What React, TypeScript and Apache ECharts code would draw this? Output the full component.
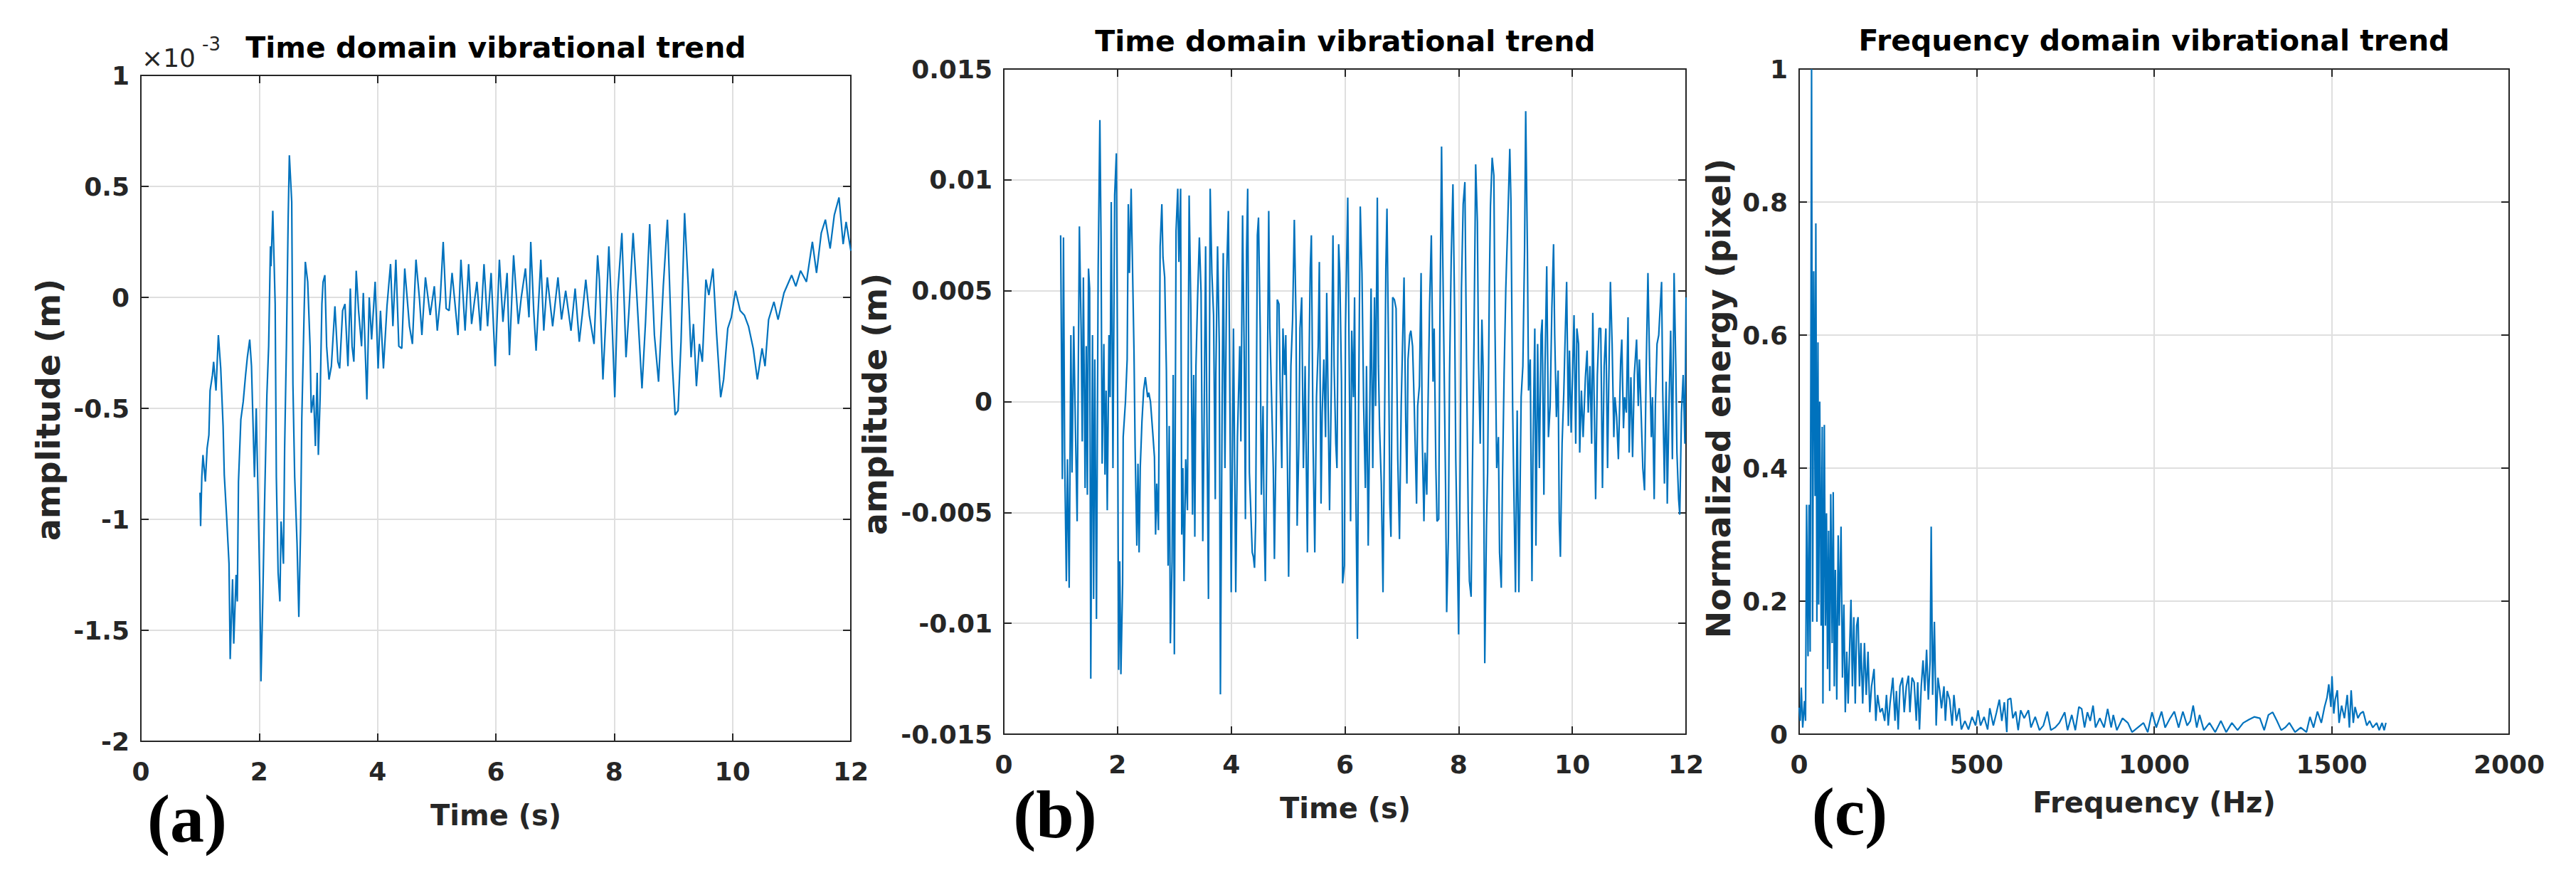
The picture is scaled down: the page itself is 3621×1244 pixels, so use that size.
import { useEffect, useRef } from "react";
import * as echarts from "echarts";

// (a) displacement, values in units of 1e-3 m
const timeDomainA: [number, number][] = [
  [1.0, -0.88], [1.01, -1.03], [1.03, -0.81], [1.05, -0.71], [1.09, -0.83], [1.12, -0.68], [1.15, -0.62], [1.17, -0.42],
  [1.21, -0.35], [1.23, -0.29], [1.27, -0.42], [1.31, -0.17], [1.35, -0.32], [1.39, -0.58], [1.41, -0.8], [1.45, -0.99],
  [1.49, -1.2], [1.51, -1.63], [1.55, -1.27], [1.57, -1.56], [1.61, -1.25], [1.63, -1.37], [1.65, -0.83], [1.69, -0.55],
  [1.73, -0.47], [1.77, -0.35], [1.8, -0.27], [1.84, -0.19], [1.87, -0.31], [1.92, -0.81], [1.95, -0.5], [1.98, -0.88],
  [2.01, -1.3], [2.03, -1.73], [2.06, -1.37], [2.09, -0.94], [2.13, -0.44], [2.16, -0.22], [2.19, 0.23], [2.2, 0.14],
  [2.23, 0.39], [2.27, -0.03], [2.29, -0.81], [2.32, -1.24], [2.35, -1.37], [2.37, -1.01], [2.41, -1.2], [2.43, -0.68],
  [2.46, -0.22], [2.49, 0.36], [2.51, 0.64], [2.55, 0.43], [2.57, -0.39], [2.6, -0.81], [2.64, -1.11], [2.67, -1.44],
  [2.7, -1.04], [2.72, -0.55], [2.76, -0.06], [2.78, 0.16], [2.82, 0.07], [2.86, -0.22], [2.88, -0.52], [2.92, -0.44],
  [2.95, -0.67], [2.98, -0.34], [3.0, -0.71], [3.03, -0.45], [3.06, -0.03], [3.08, 0.07], [3.11, 0.1], [3.14, -0.22],
  [3.18, -0.37], [3.22, -0.31], [3.28, -0.04], [3.33, -0.29], [3.36, -0.32], [3.41, -0.06], [3.45, -0.03], [3.5, -0.31],
  [3.54, 0.04], [3.57, -0.22], [3.6, -0.29], [3.64, 0.12], [3.68, -0.06], [3.73, -0.22], [3.76, 0.02], [3.82, -0.46],
  [3.86, 0.0], [3.9, -0.19], [3.96, 0.07], [4.01, -0.32], [4.05, -0.06], [4.1, -0.32], [4.16, -0.04], [4.22, 0.15],
  [4.26, -0.13], [4.31, 0.17], [4.36, -0.22], [4.41, -0.23], [4.46, 0.13], [4.54, -0.13], [4.59, -0.21], [4.65, 0.17],
  [4.71, -0.01], [4.75, -0.17], [4.81, 0.09], [4.89, -0.08], [4.96, 0.05], [5.01, -0.15], [5.06, -0.01], [5.11, 0.25],
  [5.16, -0.05], [5.21, -0.06], [5.26, 0.11], [5.36, -0.17], [5.41, 0.17], [5.48, -0.15], [5.54, 0.15], [5.59, -0.12],
  [5.68, 0.07], [5.74, -0.15], [5.8, 0.15], [5.86, -0.13], [5.92, 0.11], [5.99, -0.31], [6.06, 0.17], [6.12, -0.11],
  [6.19, 0.11], [6.23, -0.26], [6.3, 0.19], [6.38, -0.12], [6.43, 0.0], [6.5, 0.13], [6.56, -0.09], [6.59, 0.25],
  [6.64, -0.06], [6.68, -0.24], [6.76, 0.17], [6.81, -0.15], [6.87, 0.09], [6.96, -0.13], [7.05, 0.09], [7.11, -0.1],
  [7.18, 0.03], [7.27, -0.15], [7.34, 0.04], [7.41, -0.2], [7.46, -0.08], [7.52, 0.08], [7.58, -0.08], [7.66, -0.21],
  [7.72, 0.19], [7.75, 0.08], [7.81, -0.37], [7.86, -0.09], [7.91, 0.23], [7.96, -0.08], [8.01, -0.45], [8.06, 0.02],
  [8.13, 0.29], [8.2, -0.27], [8.25, -0.06], [8.32, 0.29], [8.38, 0.02], [8.47, -0.41], [8.53, -0.11], [8.6, 0.33],
  [8.68, -0.17], [8.75, -0.38], [8.83, 0.05], [8.9, 0.35], [8.98, -0.29], [9.03, -0.53], [9.08, -0.51], [9.13, -0.2],
  [9.19, 0.38], [9.25, 0.06], [9.3, -0.27], [9.34, -0.12], [9.39, -0.4], [9.44, -0.21], [9.49, -0.29], [9.55, 0.08],
  [9.6, 0.01], [9.67, 0.13], [9.73, -0.16], [9.8, -0.45], [9.85, -0.37], [9.92, -0.14], [9.98, -0.09], [10.05, 0.03],
  [10.13, -0.06], [10.2, -0.08], [10.27, -0.13], [10.35, -0.23], [10.42, -0.37], [10.5, -0.23], [10.55, -0.31],
  [10.61, -0.1], [10.7, -0.02], [10.77, -0.1], [10.87, 0.02], [11.0, 0.1], [11.07, 0.05], [11.15, 0.12], [11.25, 0.07],
  [11.35, 0.25], [11.42, 0.11], [11.5, 0.29], [11.57, 0.35], [11.65, 0.22], [11.72, 0.37], [11.8, 0.45], [11.87, 0.24],
  [11.92, 0.34], [12.0, 0.21],
];

// (b) displacement, values in mm (axis shows metres)
const timeDomainB: [number, number][] = [
  [1.0, 7.5], [1.03, -3.5], [1.05, 7.4], [1.07, -2.3], [1.1, -8.1], [1.12, -2.6], [1.15, -8.4], [1.18, 3.0], [1.2, -3.2],
  [1.23, 3.4], [1.26, -1.2], [1.29, -5.4], [1.33, 7.9], [1.36, 3.3], [1.38, -1.8], [1.4, 5.6], [1.43, -3.9], [1.45, 2.5],
  [1.47, -4.2], [1.49, 6.0], [1.51, 5.1], [1.53, -12.5], [1.56, 3.0], [1.58, -8.9], [1.6, 1.9], [1.63, -9.8], [1.66, 6.0],
  [1.69, 12.7], [1.71, 7.4], [1.73, -2.8], [1.76, 2.6], [1.78, -3.3], [1.8, 0.5], [1.82, -4.9], [1.85, 3.0], [1.87, 0.2],
  [1.89, 9.0], [1.92, -3.0], [1.95, 9.3], [1.98, 11.2], [2.0, 1.6], [2.02, -12.1], [2.04, -7.2], [2.06, -12.3],
  [2.09, -8.2], [2.1, -1.6], [2.14, 0.0], [2.17, 1.9], [2.19, 8.9], [2.21, 5.8], [2.24, 9.6], [2.29, 2.3], [2.31, -2.1],
  [2.34, -6.5], [2.36, -2.8], [2.38, -6.8], [2.4, -3.0], [2.43, -0.9], [2.46, 0.5], [2.49, 1.1], [2.53, 0.2], [2.55, 0.4],
  [2.58, 0.0], [2.62, -1.4], [2.65, -2.5], [2.67, -6.0], [2.69, -3.7], [2.72, -5.8], [2.75, 7.0], [2.78, 8.9], [2.8, 6.5],
  [2.83, 5.6], [2.86, 1.4], [2.89, -7.4], [2.91, -1.1], [2.93, -10.9], [2.96, -7.2], [2.98, 1.2], [3.0, -11.4],
  [3.03, 7.7], [3.06, 9.6], [3.08, 6.3], [3.11, 9.6], [3.13, -6.0], [3.15, -3.0], [3.17, -8.1], [3.2, -2.6], [3.23, -4.9],
  [3.26, 9.3], [3.29, 4.2], [3.32, -5.1], [3.34, 1.2], [3.36, -6.1], [3.38, 1.6], [3.41, 4.8], [3.44, 7.4], [3.47, 4.9],
  [3.5, -6.3], [3.52, -1.9], [3.55, 7.0], [3.57, 0.0], [3.6, -8.9], [3.63, 9.6], [3.66, 5.8], [3.69, 3.9], [3.72, -4.4],
  [3.73, 1.2], [3.76, 7.0], [3.79, 2.6], [3.81, -13.2], [3.84, -0.4], [3.86, 6.7], [3.89, -3.0], [3.92, 5.8], [3.95, 8.6],
  [3.97, 2.6], [4.0, -8.6], [4.04, 3.3], [4.08, -8.6], [4.11, -1.6], [4.15, 2.5], [4.17, -1.8], [4.2, 8.4], [4.23, 1.8],
  [4.25, -5.3], [4.27, 6.8], [4.29, 9.6], [4.32, -3.2], [4.34, -4.6], [4.37, -6.8], [4.39, -7.0], [4.41, -7.5],
  [4.43, -5.4], [4.46, 7.5], [4.48, 8.3], [4.51, 3.3], [4.53, -4.2], [4.56, -0.2], [4.58, -5.8], [4.6, -8.1], [4.63, -1.2],
  [4.66, 8.6], [4.68, 3.3], [4.71, 0.2], [4.74, -3.0], [4.76, -7.1], [4.79, -1.6], [4.81, 4.6], [4.84, 4.4], [4.86, 0.9],
  [4.89, -3.0], [4.91, 3.3], [4.94, 1.2], [4.96, 3.0], [4.99, -3.0], [5.01, -7.9], [5.05, 1.6], [5.08, 3.7], [5.11, 8.2],
  [5.14, 3.7], [5.16, -5.6], [5.19, -1.9], [5.21, 3.3], [5.24, 4.7], [5.27, -3.0], [5.3, 1.6], [5.34, -6.8], [5.36, -0.2],
  [5.39, 6.0], [5.41, 7.5], [5.44, -1.9], [5.47, -6.8], [5.5, 0.2], [5.53, 2.5], [5.55, 6.3], [5.58, -4.6], [5.6, -0.5],
  [5.63, 1.9], [5.66, -1.6], [5.68, 4.9], [5.71, -1.1], [5.73, -4.9], [5.76, 0.5], [5.79, 7.5], [5.81, 1.6], [5.84, -1.9],
  [5.86, -3.0], [5.89, 7.1], [5.91, 5.8], [5.94, 0.9], [5.96, -8.2], [5.99, -7.4], [6.01, 3.3], [6.05, 9.2], [6.07, 3.3],
  [6.1, -5.4], [6.12, 3.2], [6.15, 0.2], [6.17, 4.7], [6.19, -3.3], [6.22, -10.7], [6.24, -0.5], [6.27, 8.8], [6.3, 5.8],
  [6.33, -0.2], [6.36, -3.9], [6.38, 1.6], [6.41, -6.5], [6.44, 0.2], [6.46, 5.1], [6.49, -3.0], [6.52, 4.7], [6.54, -0.2],
  [6.57, 9.2], [6.59, 1.6], [6.61, -1.2], [6.64, -3.7], [6.67, -8.6], [6.7, -0.2], [6.72, 6.0], [6.74, 8.7], [6.77, 1.6],
  [6.79, -4.6], [6.81, -6.1], [6.84, 4.7], [6.87, 4.6], [6.9, 4.2], [6.93, -2.6], [6.96, -6.2], [6.99, -0.2], [7.02, 3.3],
  [7.04, 5.6], [7.07, -0.9], [7.09, -3.7], [7.11, 1.9], [7.14, 3.0], [7.16, 3.2], [7.19, 2.5], [7.22, -0.2], [7.26, -4.6],
  [7.28, -0.2], [7.31, 0.7], [7.34, 5.8], [7.36, -1.6], [7.39, -5.4], [7.41, -2.3], [7.44, -4.2], [7.46, -0.5], [7.49, 4.4],
  [7.52, 7.5], [7.55, 0.9], [7.57, 3.3], [7.6, -3.0], [7.62, -5.4], [7.65, -5.3], [7.67, 3.3], [7.7, 11.5], [7.72, 6.7],
  [7.74, 2.6], [7.77, -3.7], [7.79, -9.5], [7.82, -6.1], [7.84, 1.2], [7.87, 6.5], [7.9, 9.8], [7.93, 4.0], [7.95, -2.6],
  [7.98, -7.2], [8.0, -10.5], [8.02, -5.4], [8.05, 5.1], [8.08, 8.9], [8.11, 9.9], [8.14, 1.6], [8.17, -5.4], [8.19, -8.1],
  [8.22, -8.8], [8.24, -3.7], [8.27, 2.6], [8.3, 10.7], [8.33, 8.1], [8.35, 1.9], [8.38, -1.9], [8.41, 3.7], [8.43, 1.6],
  [8.46, -11.8], [8.49, -5.6], [8.51, -3.2], [8.54, 5.1], [8.56, 8.8], [8.59, 11.0], [8.62, 10.2], [8.64, 3.3],
  [8.67, -3.0], [8.7, -1.6], [8.72, -6.8], [8.75, -8.4], [8.77, -3.7], [8.8, 1.2], [8.83, 5.1], [8.86, 7.7], [8.9, 11.4],
  [8.92, 9.1], [8.95, -0.2], [8.97, -3.7], [9.0, -8.6], [9.03, -0.4], [9.06, -8.6], [9.1, 0.2], [9.13, 1.6], [9.16, 6.8],
  [9.18, 13.1], [9.21, 6.8], [9.23, 0.5], [9.26, 1.9], [9.29, -8.1], [9.31, -1.9], [9.34, 3.3], [9.36, -6.5], [9.39, 2.6],
  [9.42, -3.0], [9.45, 3.0], [9.47, 3.7], [9.5, -4.2], [9.52, 1.6], [9.55, 6.1], [9.58, -1.6], [9.61, -0.2], [9.64, 4.2],
  [9.67, 7.1], [9.69, 3.0], [9.72, -0.7], [9.75, 1.4], [9.77, -5.4], [9.79, -7.0], [9.82, -1.9], [9.85, 0.4], [9.87, 2.5],
  [9.9, 5.4], [9.93, -1.1], [9.95, 2.3], [9.98, -1.4], [10.01, 1.9], [10.03, 3.9], [10.06, -1.9], [10.08, 3.3],
  [10.11, 2.6], [10.13, -2.3], [10.16, 0.5], [10.19, -1.6], [10.23, 1.1], [10.26, 2.3], [10.28, -0.5], [10.31, 1.6],
  [10.34, -1.9], [10.36, 4.0], [10.39, -0.9], [10.41, -4.4], [10.44, 1.2], [10.47, 3.3], [10.5, 3.3], [10.53, -3.9],
  [10.56, 1.6], [10.59, 3.3], [10.62, -3.0], [10.64, 0.7], [10.67, 5.4], [10.7, 2.6], [10.73, -1.6], [10.75, 0.2],
  [10.78, -0.7], [10.81, -2.6], [10.85, 1.8], [10.87, 2.8], [10.9, -1.2], [10.92, 0.2], [10.95, -0.5], [10.98, 3.8],
  [11.0, -2.3], [11.03, 1.1], [11.06, -2.5], [11.09, 1.2], [11.13, 2.8], [11.16, -0.2], [11.18, 1.9], [11.21, -0.5],
  [11.24, -3.0], [11.27, -4.0], [11.3, 1.6], [11.33, 5.8], [11.36, 1.6], [11.39, -1.6], [11.41, 0.2], [11.44, -4.4],
  [11.46, -0.2], [11.49, 2.6], [11.52, 3.0], [11.54, 4.0], [11.57, 5.4], [11.59, 0.5], [11.62, -3.7], [11.65, 0.9],
  [11.67, -4.6], [11.7, -0.2], [11.73, 3.2], [11.76, -2.6], [11.79, 5.8], [11.82, 1.6], [11.84, -2.3], [11.87, -4.4],
  [11.89, -5.1], [11.92, -0.5], [11.95, 1.2], [11.98, -1.9], [12.0, 4.7],
];

// (c) spectrum: [Hz, normalized energy]
const freqDomainC: [number, number][] = [
  [0, 0.04], [3, 0.02], [6, 0.07], [10, 0.01], [15, 0.05], [18, 0.02], [21, 0.345], [25, 0.117], [28, 0.345], [31, 0.124],
  [35, 1.0], [38, 0.169], [41, 0.696], [45, 0.358], [47, 0.768], [50, 0.169], [53, 0.589], [55, 0.195], [58, 0.5],
  [62, 0.163], [65, 0.462], [67, 0.046], [71, 0.465], [74, 0.163], [77, 0.332], [80, 0.098], [83, 0.306], [86, 0.065],
  [89, 0.361], [93, 0.137], [96, 0.364], [99, 0.072], [102, 0.247], [106, 0.052], [110, 0.299], [113, 0.163], [118, 0.312],
  [122, 0.085], [126, 0.195], [130, 0.033], [134, 0.124], [138, 0.046], [142, 0.124], [146, 0.202], [150, 0.072],
  [154, 0.176], [158, 0.046], [162, 0.163], [166, 0.176], [170, 0.072], [174, 0.137], [179, 0.046], [184, 0.137],
  [189, 0.059], [194, 0.124], [199, 0.033], [204, 0.072], [211, 0.098], [216, 0.02], [221, 0.059], [228, 0.033],
  [234, 0.039], [241, 0.02], [246, 0.059], [251, 0.013], [256, 0.046], [264, 0.085], [270, 0.02], [274, 0.065],
  [279, 0.007], [284, 0.072], [291, 0.085], [296, 0.033], [302, 0.072], [308, 0.088], [312, 0.033], [318, 0.085],
  [324, 0.078], [330, 0.02], [334, 0.078], [339, 0.007], [344, 0.072], [349, 0.111], [354, 0.065], [359, 0.127],
  [364, 0.052], [369, 0.111], [372, 0.312], [376, 0.059], [381, 0.169], [386, 0.013], [391, 0.085], [396, 0.065],
  [401, 0.039], [408, 0.072], [412, 0.02], [417, 0.065], [424, 0.052], [431, 0.013], [436, 0.059], [443, 0.02],
  [451, 0.039], [457, 0.007], [467, 0.02], [477, 0.007], [487, 0.026], [497, 0.013], [504, 0.036], [511, 0.013],
  [521, 0.026], [531, 0.007], [537, 0.039], [547, 0.013], [556, 0.033], [564, 0.052], [571, 0.02], [578, 0.048],
  [585, 0.003], [588, 0.052], [596, 0.054], [602, 0.024], [610, 0.034], [617, 0.006], [624, 0.036], [634, 0.024],
  [646, 0.036], [653, 0.01], [665, 0.026], [677, 0.006], [688, 0.013], [699, 0.034], [709, 0.006], [721, 0.01],
  [733, 0.017], [748, 0.033], [756, 0.006], [768, 0.029], [778, 0.006], [788, 0.041], [796, 0.038], [804, 0.01],
  [812, 0.033], [820, 0.02], [828, 0.043], [835, 0.01], [847, 0.024], [859, 0.01], [869, 0.038], [879, 0.01],
  [885, 0.029], [895, 0.006], [911, 0.024], [926, 0.017], [938, 0.003], [954, 0.01], [970, 0.017], [982, 0.003],
  [994, 0.033], [1006, 0.01], [1021, 0.034], [1031, 0.01], [1045, 0.024], [1057, 0.034], [1069, 0.01], [1081, 0.034],
  [1093, 0.013], [1102, 0.02], [1110, 0.043], [1120, 0.01], [1128, 0.029], [1140, 0.006], [1156, 0.017], [1172, 0.003],
  [1188, 0.02], [1203, 0.003], [1219, 0.017], [1235, 0.006], [1251, 0.017], [1267, 0.022], [1282, 0.026], [1298, 0.024],
  [1310, 0.006], [1322, 0.029], [1334, 0.033], [1346, 0.02], [1358, 0.006], [1369, 0.01], [1381, 0.017], [1397, 0.003],
  [1413, 0.01], [1429, 0.003], [1439, 0.026], [1449, 0.01], [1460, 0.034], [1471, 0.017], [1480, 0.041], [1487, 0.055],
  [1492, 0.075], [1498, 0.041], [1501, 0.087], [1506, 0.031], [1510, 0.052], [1516, 0.066], [1521, 0.017], [1528, 0.043],
  [1536, 0.024], [1544, 0.059], [1550, 0.01], [1555, 0.066], [1561, 0.017], [1566, 0.041], [1574, 0.024], [1581, 0.031],
  [1589, 0.034], [1599, 0.013], [1607, 0.02], [1616, 0.01], [1627, 0.017], [1634, 0.006], [1642, 0.017], [1648, 0.006],
  [1653, 0.017],
];

const titles = ["Time domain vibrational trend", "Time domain vibrational trend", "Frequency domain vibrational trend"];
const xNames = ["Time (s)", "Time (s)", "Frequency (Hz)"];
const yNames = ["amplitude (m)", "amplitude (m)", "Normalized energy (pixel)"];
const panelTags = ["(a)", "(b)", "(c)"];

const LINE = "#0072BD";
const INK = "#262626";
const FONT = "DejaVu Sans";

const grids = [
  { left: 198, top: 106, width: 998, height: 936 },
  { left: 1411, top: 97, width: 959, height: 935 },
  { left: 2529, top: 97, width: 998, height: 935 },
];

const xRanges = [
  { min: 0, max: 12, interval: 2 },
  { min: 0, max: 12, interval: 2 },
  { min: 0, max: 2000, interval: 500 },
];
const yRanges = [
  { min: -2, max: 1, interval: 0.5 },
  { min: -15, max: 15, interval: 5 },
  { min: 0, max: 1, interval: 0.2 },
];
const yFormat = [
  (v: number) => String(v),
  (v: number) => String(v / 1000),
  (v: number) => String(v),
];

const tickLabel = { fontFamily: FONT, fontWeight: "bold" as const, fontSize: 36, color: INK };

function axisPair(kind: "x" | "y", i: number) {
  const r = kind === "x" ? xRanges[i] : yRanges[i];
  const common = {
    type: "value" as const,
    gridIndex: i,
    min: r.min,
    max: r.max,
    interval: r.interval,
    axisLine: { show: true, onZero: false, lineStyle: { color: INK, width: 2 } },
    axisTick: { show: true, inside: true, length: 11, lineStyle: { color: INK, width: 2 } },
  };
  const main = {
    ...common,
    position: kind === "x" ? "bottom" : "left",
    axisLabel: {
      ...tickLabel,
      margin: kind === "x" ? 24 : 16,
      formatter: kind === "x" ? (v: number) => String(v) : yFormat[i],
    },
    splitLine: { show: true, lineStyle: { color: "#dfdfdf", width: 2 } },
  };
  const mirror = {
    ...common,
    position: kind === "x" ? "top" : "right",
    axisLabel: { show: false },
    splitLine: { show: false },
  };
  return [main, mirror];
}

function txt(
  text: string,
  x: number,
  y: number,
  size: number,
  opts: { weight?: string; family?: string; color?: string; align?: string; rotate?: number } = {}
) {
  return {
    type: "text",
    x,
    y,
    rotation: opts.rotate ?? 0,
    style: {
      text,
      fontSize: size,
      fontWeight: opts.weight ?? "bold",
      fontFamily: opts.family ?? FONT,
      fill: opts.color ?? INK,
      align: opts.align ?? "center",
      verticalAlign: "middle",
      textAlign: opts.align ?? "center",
      textVerticalAlign: "middle",
    },
  };
}

export default function App() {
  const chartRef = useRef<HTMLDivElement>(null);

  useEffect(() => {
    if (!chartRef.current) return;
    const chart = echarts.init(chartRef.current, null, { renderer: "svg" });

    const xAxis = [0, 1, 2].flatMap((i) => axisPair("x", i));
    const yAxis = [0, 1, 2].flatMap((i) => axisPair("y", i));
    const seriesData = [timeDomainA, timeDomainB, freqDomainC];

    const titlePos = [[697, 67], [1891, 58], [3028, 57]];
    const xNamePos = [[697, 1146], [1891, 1136], [3028, 1128]];
    const yNamePos = [[68, 576], [1230, 568], [2416, 560]];
    const tagPos = [[263, 1150], [1483, 1144], [2600, 1140]];

    const graphic: any[] = [];
    for (let i = 0; i < 3; i++) {
      graphic.push(txt(titles[i], titlePos[i][0], titlePos[i][1], 41, { color: "#000" }));
      graphic.push(txt(xNames[i], xNamePos[i][0], xNamePos[i][1], 40));
      graphic.push(txt(yNames[i], yNamePos[i][0], yNamePos[i][1], 46, { rotate: Math.PI / 2 }));
      graphic.push(txt(panelTags[i], tagPos[i][0], tagPos[i][1], 96, { family: "Liberation Serif", color: "#000" }));
    }
    graphic.push(txt("×10", 199, 81, 36, { weight: "normal", align: "left" }));
    graphic.push(txt("-3", 284, 62, 26, { weight: "normal", align: "left" }));

    chart.setOption({
      animation: false,
      backgroundColor: "#fff",
      grid: grids.map((g) => ({ ...g, outerBoundsMode: "none" })),
      xAxis,
      yAxis,
      series: seriesData.map((d, i) => ({
        type: "line",
        xAxisIndex: i * 2,
        yAxisIndex: i * 2,
        data: d,
        showSymbol: false,
        symbol: "none",
        lineStyle: { color: LINE, width: 2.2 },
        itemStyle: { color: LINE },
      })),
      graphic,
    });

    return () => {
      chart.dispose();
    };
  }, []);

  return (
    <div
      ref={chartRef}
      style={{ position: "absolute", left: 0, top: 0, width: 3621, height: 1244 }}
    />
  );
}
